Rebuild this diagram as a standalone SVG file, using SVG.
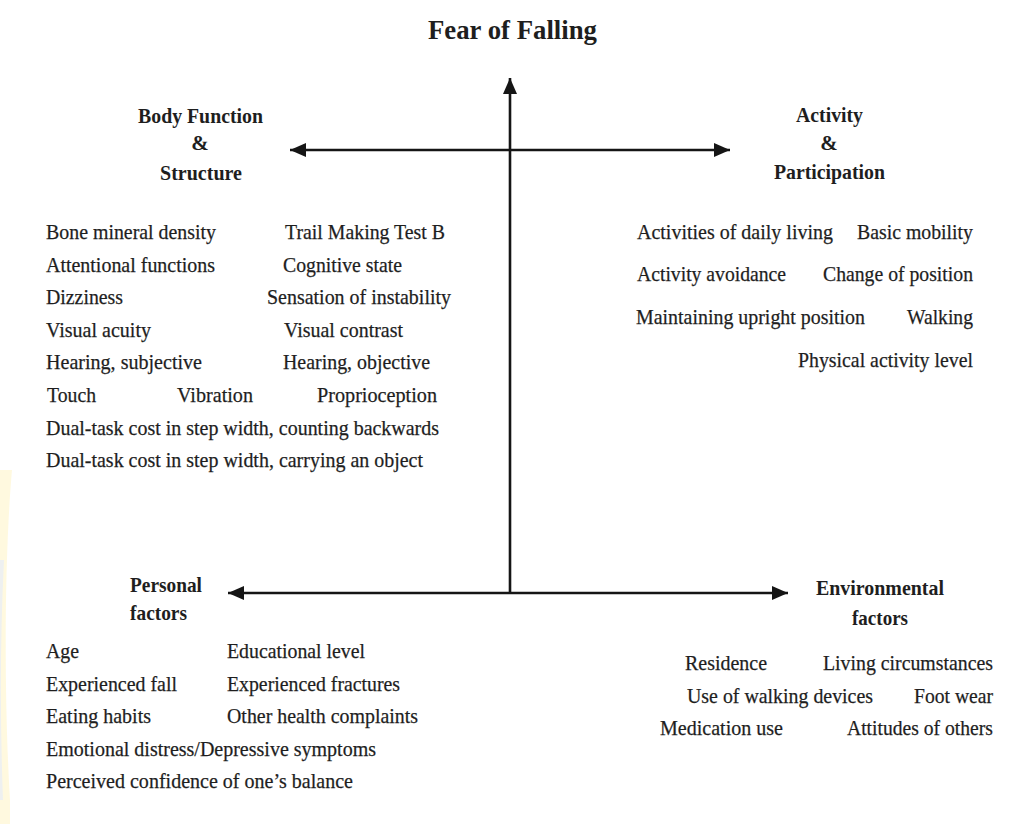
<svg xmlns="http://www.w3.org/2000/svg" width="1023" height="824" viewBox="0 0 1023 824">
  <style>
    text { font-family: "Liberation Serif", "Times New Roman", serif; fill: #1e1e1e; }
    .t { font-size: 22px; stroke: #1e1e1e; stroke-width: 0.25; }
    .h { font-size: 21px; font-weight: bold; }
    .title { font-size: 27px; font-weight: bold; }
    .axis { stroke: #151515; stroke-width: 2.6; fill: none; }
  </style>
  <defs>
    <marker id="arr" markerUnits="userSpaceOnUse" markerWidth="18" markerHeight="16" refX="16" refY="7" orient="auto-start-reverse" viewBox="0 0 18 16">
      <path d="M0,0 L16,7 L0,14 Z" fill="#151515"/>
    </marker>
  </defs>
  <rect width="1023" height="824" fill="#ffffff"/>
  <g id="watermark">
    <path d="M12,470 C4,560 4,700 10,800 L10,824 L0,824 L0,470 Z" fill="#fff8dc" opacity="0.9"/>
    <path d="M4,560 C0,640 0,720 3,800 L0,800 L0,560 Z" fill="#eef0f0"/>
  </g>

  <g id="axes">
    <line class="axis" x1="510" y1="593" x2="510" y2="78" marker-end="url(#arr)"/>
    <line class="axis" x1="290" y1="150" x2="730" y2="150" marker-start="url(#arr)" marker-end="url(#arr)"/>
    <line class="axis" x1="228" y1="593" x2="788" y2="593" marker-start="url(#arr)" marker-end="url(#arr)"/>
  </g>

  <g id="title">
    <text class="title" x="428" y="39" textLength="169" lengthAdjust="spacingAndGlyphs">Fear of Falling</text>
  </g>

  <g id="body-function">
    <text class="h" x="138" y="123" textLength="125" lengthAdjust="spacingAndGlyphs">Body Function</text>
    <text class="h" x="200" y="150" text-anchor="middle">&amp;</text>
    <text class="h" x="160" y="180" textLength="82" lengthAdjust="spacingAndGlyphs">Structure</text>
    <text class="t" x="46" y="239" textLength="170" lengthAdjust="spacingAndGlyphs">Bone mineral density</text>
    <text class="t" x="285" y="239" textLength="160" lengthAdjust="spacingAndGlyphs">Trail Making Test B</text>
    <text class="t" x="46" y="272" textLength="169" lengthAdjust="spacingAndGlyphs">Attentional functions</text>
    <text class="t" x="283" y="272" textLength="119" lengthAdjust="spacingAndGlyphs">Cognitive state</text>
    <text class="t" x="46" y="304" textLength="77" lengthAdjust="spacingAndGlyphs">Dizziness</text>
    <text class="t" x="267" y="304" textLength="184" lengthAdjust="spacingAndGlyphs">Sensation of instability</text>
    <text class="t" x="46" y="337" textLength="105" lengthAdjust="spacingAndGlyphs">Visual acuity</text>
    <text class="t" x="284" y="337" textLength="119" lengthAdjust="spacingAndGlyphs">Visual contrast</text>
    <text class="t" x="46" y="369" textLength="156" lengthAdjust="spacingAndGlyphs">Hearing, subjective</text>
    <text class="t" x="283" y="369" textLength="147" lengthAdjust="spacingAndGlyphs">Hearing, objective</text>
    <text class="t" x="47" y="402" textLength="49" lengthAdjust="spacingAndGlyphs">Touch</text>
    <text class="t" x="177" y="402" textLength="76" lengthAdjust="spacingAndGlyphs">Vibration</text>
    <text class="t" x="317" y="402" textLength="120" lengthAdjust="spacingAndGlyphs">Proprioception</text>
    <text class="t" x="46" y="435" textLength="393" lengthAdjust="spacingAndGlyphs">Dual-task cost in step width, counting backwards</text>
    <text class="t" x="46" y="467" textLength="377" lengthAdjust="spacingAndGlyphs">Dual-task cost in step width, carrying an object</text>
  </g>

  <g id="activity">
    <text class="h" x="796" y="122" textLength="67" lengthAdjust="spacingAndGlyphs">Activity</text>
    <text class="h" x="829" y="150" text-anchor="middle">&amp;</text>
    <text class="h" x="774" y="179" textLength="111" lengthAdjust="spacingAndGlyphs">Participation</text>
    <text class="t" x="637" y="239" textLength="196" lengthAdjust="spacingAndGlyphs">Activities of daily living</text>
    <text class="t" x="857" y="239" textLength="116" lengthAdjust="spacingAndGlyphs">Basic mobility</text>
    <text class="t" x="637" y="281" textLength="149" lengthAdjust="spacingAndGlyphs">Activity avoidance</text>
    <text class="t" x="823" y="281" textLength="150" lengthAdjust="spacingAndGlyphs">Change of position</text>
    <text class="t" x="636" y="324" textLength="229" lengthAdjust="spacingAndGlyphs">Maintaining upright position</text>
    <text class="t" x="907" y="324" textLength="66" lengthAdjust="spacingAndGlyphs">Walking</text>
    <text class="t" x="798" y="367" textLength="175" lengthAdjust="spacingAndGlyphs">Physical activity level</text>
  </g>

  <g id="personal">
    <text class="h" x="130" y="592" textLength="72" lengthAdjust="spacingAndGlyphs">Personal</text>
    <text class="h" x="130" y="620" textLength="57" lengthAdjust="spacingAndGlyphs">factors</text>
    <text class="t" x="46" y="658" textLength="33" lengthAdjust="spacingAndGlyphs">Age</text>
    <text class="t" x="227" y="658" textLength="138" lengthAdjust="spacingAndGlyphs">Educational level</text>
    <text class="t" x="46" y="691" textLength="131" lengthAdjust="spacingAndGlyphs">Experienced fall</text>
    <text class="t" x="227" y="691" textLength="173" lengthAdjust="spacingAndGlyphs">Experienced fractures</text>
    <text class="t" x="46" y="723" textLength="105" lengthAdjust="spacingAndGlyphs">Eating habits</text>
    <text class="t" x="227" y="723" textLength="191" lengthAdjust="spacingAndGlyphs">Other health complaints</text>
    <text class="t" x="46" y="756" textLength="330" lengthAdjust="spacingAndGlyphs">Emotional distress/Depressive symptoms</text>
    <text class="t" x="46" y="788" textLength="307" lengthAdjust="spacingAndGlyphs">Perceived confidence of one’s balance</text>
  </g>

  <g id="environmental">
    <text class="h" x="816" y="595" textLength="128" lengthAdjust="spacingAndGlyphs">Environmental</text>
    <text class="h" x="852" y="625" textLength="56" lengthAdjust="spacingAndGlyphs">factors</text>
    <text class="t" x="685" y="670" textLength="82" lengthAdjust="spacingAndGlyphs">Residence</text>
    <text class="t" x="823" y="670" textLength="170" lengthAdjust="spacingAndGlyphs">Living circumstances</text>
    <text class="t" x="687" y="703" textLength="186" lengthAdjust="spacingAndGlyphs">Use of walking devices</text>
    <text class="t" x="914" y="703" textLength="79" lengthAdjust="spacingAndGlyphs">Foot wear</text>
    <text class="t" x="660" y="735" textLength="123" lengthAdjust="spacingAndGlyphs">Medication use</text>
    <text class="t" x="847" y="735" textLength="146" lengthAdjust="spacingAndGlyphs">Attitudes of others</text>
  </g>
</svg>
